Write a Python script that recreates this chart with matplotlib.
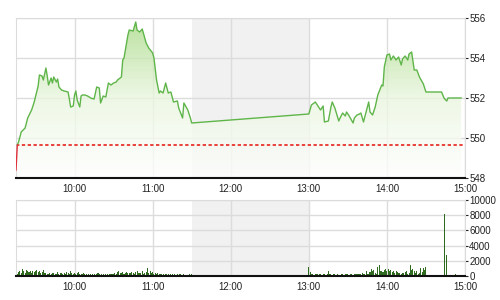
import numpy as np
import matplotlib.pyplot as plt
from matplotlib.colors import LinearSegmentedColormap

plt.rcParams['font.family'] = ['Liberation Sans', 'DejaVu Sans']


def to_min(s):
    h, m = s.split(':')
    return int(h) * 60 + int(m)


# 集合竞价段 (赤)
auction_times = ['09:15', '09:16']
auction_values = [548.4, 549.65]

# 分時価格
price_times = [
    '09:16', '09:17', '09:19', '09:22', '09:24', '09:27', '09:29', '09:32', '09:33', '09:35',
    '09:36', '09:38', '09:39', '09:40', '09:42', '09:43', '09:44', '09:46', '09:47', '09:48',
    '09:50', '09:52', '09:55', '09:56', '09:57', '09:59', '10:00', '10:01', '10:02', '10:04',
    '10:05', '10:06', '10:08', '10:10', '10:13', '10:15', '10:17', '10:19', '10:20', '10:22',
    '10:24', '10:26', '10:28', '10:30', '10:32', '10:33', '10:36', '10:37', '10:38', '10:41',
    '10:42', '10:45', '10:47', '10:48', '10:50', '10:52', '10:55', '10:57', '11:00', '11:01',
    '11:03', '11:05', '11:06', '11:08', '11:10', '11:12', '11:14', '11:16', '11:19', '11:20',
    '11:23', '11:24', '11:27', '11:29', '11:30',
    '13:00', '13:02', '13:05', '13:07', '13:09', '13:11', '13:12', '13:15', '13:17', '13:18',
    '13:20', '13:23', '13:24', '13:26', '13:28', '13:29', '13:31', '13:34', '13:35', '13:37',
    '13:39', '13:40', '13:42', '13:44', '13:46', '13:47', '13:49', '13:51', '13:53', '13:56',
    '13:57', '13:58', '14:00', '14:02', '14:03', '14:05', '14:07', '14:09', '14:11', '14:12',
    '14:14', '14:16', '14:17', '14:19', '14:21', '14:23', '14:25', '14:28', '14:30', '14:42',
    '14:44', '14:46', '14:47', '14:57',
]
price_values = [
    549.65, 549.8, 550.3, 550.5, 551.0, 551.4, 551.8, 552.6, 553.15, 553.1,
    552.9, 553.5, 553.1, 552.65, 553.0, 552.75, 553.05, 552.8, 552.95, 552.55,
    552.4, 552.35, 552.3, 551.95, 551.55, 551.6, 552.15, 552.35, 551.9, 551.55,
    552.1, 552.15, 552.15, 552.1, 551.98, 551.95, 552.55, 552.5, 551.75, 552.1,
    552.05, 552.75, 552.65, 552.75, 552.8, 552.9, 553.05, 553.9, 554.0, 555.15,
    555.4, 555.35, 555.8, 555.4, 555.3, 555.45, 554.75, 554.5, 554.25, 554.0,
    552.9, 552.25, 552.35, 552.25, 552.75, 552.25, 552.3, 551.8, 551.85, 551.5,
    551.0, 551.75, 551.4, 551.0, 550.75,
    551.2, 551.65, 551.8, 551.6, 551.4, 551.6, 550.8, 550.85, 551.55, 551.8,
    551.5, 550.85, 551.0, 551.25, 551.1, 551.3, 551.1, 550.75, 551.0, 551.15,
    551.2, 551.25, 550.8, 551.3, 551.8, 551.3, 551.15, 551.55, 552.15, 552.65,
    552.6, 553.55, 554.15, 554.2, 553.9, 554.1, 553.9, 554.05, 553.65, 553.95,
    554.1, 553.9, 554.2, 554.3, 553.4, 553.4, 553.05, 552.7, 552.3, 552.3,
    551.98, 551.85, 552.0, 552.0,
]
prev_close = 549.63

# 成交量 (1分ごと)
vol_am_start = '09:16'
vol_am = [
    300, 500, 650, 400, 900, 600, 450, 800, 700, 500, 650, 400, 700, 550,
    600, 750, 500, 650, 400, 550, 800, 450, 350, 300, 250, 400, 300, 450, 350,
    200, 300, 500, 250, 350, 450, 300, 400, 250, 500, 350, 300, 600, 400, 300,
    450, 300, 350, 500, 250, 300, 200, 350, 250, 300, 150, 200, 250, 150, 200,
    300, 150, 200, 350, 250, 150, 200, 300, 150, 250, 200, 150, 300, 200, 250,
    300, 450, 250, 500, 600, 400, 350, 550, 300, 450, 500, 350, 450, 400, 550,
    350, 300, 500, 650, 400, 350, 450, 600, 300, 400, 500, 1100, 450, 600, 350,
    500, 300, 400, 250, 350, 300, 200, 250, 300, 150, 250, 200, 300, 150, 200,
    250, 150, 200, 150, 250, 150, 200, 150, 100, 200, 150, 100, 150, 200, 150, 200,
]
vol_pm_start = '13:00'
vol_pm = [
    1200, 500, 250, 200, 150, 300, 200, 250, 300, 200, 150, 250, 200, 150, 200,
    600, 250, 200, 150, 200, 250, 150, 200, 100, 150, 200, 250, 150, 200, 300,
    200, 150, 250, 200, 150, 200, 300, 250, 200, 300, 250, 400, 200, 300, 700,
    250, 300, 500, 900, 600, 800, 400, 300, 1200, 1400, 600, 700, 500, 800, 900,
    700, 900, 600, 800, 500, 700, 400, 600, 500, 350, 450, 300, 400, 350, 500,
    600, 300, 400, 1450, 800, 900, 700, 400, 600, 300, 400, 1000, 500, 1100, 800,
    1200, 100, 50, 80, 100, 60, 50, 80, 40, 60, 50, 70, 100, 80, 8100,
    100, 2800, 80, 60, 50, 40, 60, 50, 200, 80, 60, 50, 150,
]

hour_labels = ['10:00', '11:00', '12:00', '13:00', '14:00', '15:00']
price_ticks = [548, 550, 552, 554, 556]
vol_ticks = [0, 2000, 4000, 6000, 8000, 10000]

grid_c = '#dcdcdc'
x0, x1 = to_min('09:15'), to_min('15:00')
hour_ticks = [to_min(s) for s in hour_labels]

fig = plt.figure(figsize=(5, 3), dpi=100)
fig.patch.set_facecolor('white')
ax = fig.add_axes([0.032, 0.4067, 0.898, 0.5333])
axv = fig.add_axes([0.032, 0.08, 0.898, 0.2533])


def style(a, yticks, ylabels):
    a.set_xlim(x0, x1)
    a.set_xticks(hour_ticks)
    a.set_xticklabels(hour_labels)
    a.set_yticks(yticks)
    a.set_yticklabels(ylabels)
    a.set_ylim(yticks[0], yticks[-1])
    a.yaxis.tick_right()
    a.grid(True, color=grid_c, linewidth=1)
    a.set_axisbelow(True)
    for s in ['left', 'top', 'right']:
        a.spines[s].set_color(grid_c)
    a.spines['bottom'].set_color('#111111')
    a.spines['bottom'].set_linewidth(1.5)
    a.tick_params(axis='x', length=0, pad=4.5, labelsize=7, colors='#222222')
    a.tick_params(axis='y', length=2, width=0.8, pad=1, labelsize=7, colors='#222222')
    # 昼休み
    a.axvspan(to_min('11:30'), to_min('13:00'), color='#f1f1f1', zorder=0.5, lw=0)


style(ax, price_ticks, [str(v) for v in price_ticks])
style(axv, vol_ticks, [str(v) for v in vol_ticks])

# 価格
pt = np.array([to_min(s) for s in price_times])
pv = np.array(price_values)
poly = ax.fill_between(pt, pv, 548, color='none', lw=0)
cmap = LinearSegmentedColormap.from_list('g', ['#ffffff', '#eaf6e0', '#a9da86'])
grad = np.linspace(0, 1, 256).reshape(-1, 1)
img = ax.imshow(grad, extent=[x0, x1, 548, 556], origin='lower', aspect='auto',
                cmap=cmap, alpha=0.8, zorder=1)
img.set_clip_path(poly.get_paths()[0], transform=ax.transData)
ax.plot(pt, pv, color='#5fb54a', lw=1.0, zorder=3)
ax.plot([to_min(s) for s in auction_times], auction_values, color='#e0303a', lw=1.0, zorder=3)
ax.axhline(prev_close, color='#e8221e', lw=1.2, ls=(0, (2, 1.5)), zorder=2.5)
ax.set_xlim(x0, x1)
ax.set_ylim(548, 556)

# 成交量
am_t = to_min(vol_am_start) + np.arange(len(vol_am))
pm_t = to_min(vol_pm_start) + np.arange(len(vol_pm))
axv.bar(am_t, vol_am, width=0.8, color='#2f6b1f', lw=0, zorder=2)
axv.bar(pm_t, vol_pm, width=0.8, color='#2f6b1f', lw=0, zorder=2)
axv.set_xlim(x0, x1)
axv.set_ylim(0, 10000)

fig.savefig('out.png', dpi=100)
